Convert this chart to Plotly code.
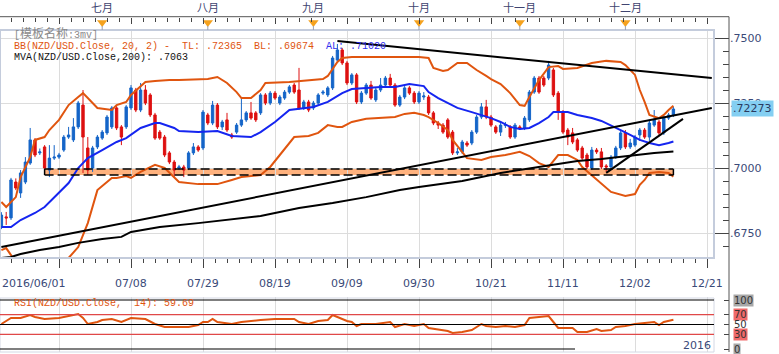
import plotly.graph_objects as go

W, H = 779, 354
def px(x): return x / W
def py(y): return 1 - y / H

# ---------------- data ----------------
IDX = list(range(141))
OPEN = [.6773,.6812,.6808,.6946,.6904,.6946,.7019,.7108,.7058,.7081,
        .6992,.7038,.7042,.7069,.7119,.7108,.7158,.7242,.7077,.7000,
        .7081,.7115,.7135,.7158,.7231,.7158,.7158,.7231,.7300,.7223,
        .7300,.7281,.7204,.7138,.7119,.7058,.7023,.7000,.7004,.7000,
        .7058,.7081,.7077,.7204,.7173,.7242,.7158,.7185,.7127,.7138,
        .7165,.7185,.7212,.7212,.7212,.7281,.7250,.7288,.7250,.7269,
        .7292,.7319,.7300,.7231,.7254,.7231,.7250,.7288,.7281,.7308,
        .7415,.7454,.7404,.7327,.7358,.7254,.7288,.7319,.7262,.7300,
        .7319,.7346,.7319,.7242,.7273,.7308,.7288,.7254,.7273,.7273,
        .7212,.7173,.7165,.7185,.7138,.7058,.7062,.7096,.7096,.7138,
        .7196,.7235,.7196,.7158,.7138,.7163,.7158,.7119,.7158,.7154,
        .7185,.7292,.7346,.7346,.7346,.7377,.7288,.7215,.7146,.7135,
        .7108,.7077,.7050,.7000,.7069,.7062,.7008,.7004,.7042,.7077,
        .7135,.7081,.7088,.7127,.7146,.7119,.7165,.7177,.7135,.7192,
        .7204]
HIGH = [.6830,.6831,.6962,.6960,.6992,.7042,.7154,.7115,.7075,.7088,
        .7088,.7088,.7058,.7127,.7158,.7192,.7258,.7300,.7119,.7085,
        .7127,.7146,.7204,.7238,.7238,.7165,.7242,.7319,.7308,.7327,
        .7319,.7288,.7212,.7146,.7127,.7065,.7031,.7012,.7012,.7065,
        .7096,.7088,.7223,.7212,.7258,.7250,.7185,.7212,.7135,.7173,
        .7269,.7219,.7254,.7219,.7288,.7288,.7296,.7296,.7281,.7300,
        .7319,.7327,.7385,.7262,.7262,.7258,.7288,.7300,.7315,.7431,
        .7477,.7462,.7412,.7365,.7365,.7296,.7327,.7335,.7308,.7346,
        .7354,.7362,.7327,.7281,.7315,.7315,.7296,.7296,.7292,.7281,
        .7219,.7181,.7173,.7192,.7146,.7077,.7108,.7104,.7146,.7204,
        .7250,.7262,.7204,.7165,.7173,.7177,.7165,.7173,.7165,.7200,
        .7300,.7354,.7354,.7354,.7412,.7385,.7296,.7223,.7154,.7154,
        .7115,.7085,.7058,.7081,.7077,.7077,.7015,.7050,.7085,.7142,
        .7146,.7112,.7127,.7154,.7154,.7181,.7223,.7185,.7200,.7212,
        .7235]
LOW = [.6765,.6781,.6800,.6915,.6885,.6938,.7012,.7042,.7050,.6992,
       .6965,.7031,.7035,.7062,.7112,.7100,.7150,.6981,.6973,.6985,
       .7073,.7108,.7127,.7150,.7146,.7088,.7150,.7223,.7215,.7215,
       .7242,.7196,.7108,.7108,.7042,.7015,.6965,.6992,.6965,.6992,
       .7050,.7062,.7069,.7165,.7165,.7150,.7146,.7138,.7112,.7131,
       .7158,.7177,.7185,.7177,.7204,.7242,.7242,.7262,.7242,.7262,
       .7285,.7285,.7223,.7223,.7215,.7223,.7242,.7281,.7273,.7300,
       .7408,.7396,.7319,.7319,.7246,.7246,.7281,.7262,.7254,.7292,
       .7312,.7312,.7235,.7235,.7265,.7281,.7246,.7246,.7262,.7204,
       .7165,.7150,.7131,.7112,.7050,.7050,.7054,.7081,.7088,.7131,
       .7188,.7188,.7158,.7131,.7123,.7154,.7112,.7112,.7146,.7146,
       .7177,.7285,.7285,.7312,.7338,.7273,.7185,.7131,.7088,.7092,
       .7062,.7031,.6996,.6992,.7054,.6996,.6985,.6996,.7035,.7069,
       .7073,.7073,.7081,.7104,.7112,.7104,.7158,.7127,.7127,.7185,
       .7196]
CLOSE = [.6819,.6808,.6954,.6923,.6981,.7023,.7108,.7050,.7062,.7000,
         .7038,.7042,.7050,.7119,.7127,.7158,.7250,.7119,.6992,.7077,
         .7119,.7138,.7196,.7231,.7154,.7119,.7235,.7308,.7223,.7300,
         .7250,.7204,.7115,.7115,.7050,.7023,.6992,.7004,.6992,.7058,
         .7081,.7069,.7215,.7173,.7242,.7158,.7177,.7146,.7119,.7165,
         .7185,.7212,.7192,.7185,.7281,.7250,.7288,.7269,.7273,.7292,
         .7312,.7292,.7231,.7254,.7223,.7250,.7281,.7292,.7308,.7423,
         .7454,.7404,.7327,.7358,.7254,.7288,.7319,.7269,.7300,.7319,
         .7346,.7319,.7242,.7273,.7308,.7288,.7254,.7288,.7277,.7212,
         .7173,.7165,.7138,.7119,.7058,.7062,.7100,.7088,.7138,.7196,
         .7235,.7196,.7165,.7138,.7165,.7167,.7119,.7165,.7154,.7192,
         .7292,.7346,.7292,.7319,.7396,.7281,.7215,.7138,.7119,.7100,
         .7069,.7038,.7004,.7069,.7062,.7004,.7004,.7042,.7077,.7135,
         .7081,.7096,.7119,.7146,.7119,.7173,.7185,.7135,.7192,.7204,
         .7227]

UB_IDX = [0,1,3,4,6,7,9,10,12,14,16,17,18,20,23,24,26,27,30,32,35,37,43,45,47,49,50,52,54,55,
          60,67,68,70,71,73,87,89,90,92,93,95,97,99,101,102,104,106,108,109,110,112,114,116,117,
          120,123,126,129,130,132,133,134,135,137,138,139,140]
UB_VAL = [.6869,.6850,.6888,.6965,.7042,.7108,.7119,.7146,.7185,.7242,.7273,.7288,.7269,.7231,.7223,
          .7242,.7254,.7281,.7331,.7335,.7338,.7338,.7342,.7350,.7327,.7292,.7269,.7269,.7300,.7327,
          .7331,.7342,.7354,.7408,.7423,.7427,.7427,.7423,.7385,.7373,.7377,.7404,.7404,.7377,.7354,
          .7342,.7323,.7288,.7242,.7239,.7273,.7338,.7388,.7392,.7381,.7385,.7404,.7412,.7408,.7396,
          .7358,.7300,.7254,.7204,.7192,.7204,.7223,.7239]

LB_IDX = [0,1,2,3,5,8,11,13,14,16,18,20,23,24,26,27,29,32,34,37,41,45,48,50,54,56,58,60,61,64,
          66,68,70,71,73,76,79,82,84,86,88,89,91,93,94,96,97,100,102,105,108,110,112,114,115,116,
          118,120,121,123,125,127,130,132,133,134,135,137,139,140]
LB_VAL = [.6684,.6692,.6665,.6634,.6588,.6569,.6584,.6627,.6654,.6696,.6788,.6915,.6962,.6962,.6969,
          .6962,.6985,.7012,.7000,.6946,.6938,.6938,.6954,.6965,.6973,.7004,.7050,.7096,.7119,.7123,
          .7135,.7165,.7158,.7158,.7177,.7189,.7192,.7196,.7208,.7212,.7204,.7196,.7173,.7146,.7108,
          .7062,.7038,.7031,.7042,.7050,.7062,.7046,.7019,.7004,.7027,.7050,.7050,.7031,.7004,.6973,
          .6942,.6908,.6892,.6900,.6935,.6954,.6981,.6985,.6981,.6967]

MB_IDX = [0,2,4,7,9,12,14,16,18,21,24,26,29,32,33,36,37,41,45,48,52,54,57,60,65,68,71,73,76,79,
          82,85,88,89,91,93,95,98,100,102,104,106,108,110,112,114,115,118,120,123,125,127,129,131,
          133,135,137,139,140]
MB_VAL = [.6773,.6773,.6800,.6827,.6850,.6904,.6942,.7000,.7038,.7069,.7100,.7115,.7154,.7173,.7173,
          .7154,.7142,.7138,.7142,.7123,.7119,.7138,.7177,.7223,.7235,.7254,.7288,.7304,.7308,.7312,
          .7312,.7323,.7315,.7292,.7269,.7250,.7231,.7215,.7204,.7192,.7177,.7158,.7150,.7154,.7173,
          .7196,.7215,.7215,.7204,.7192,.7181,.7165,.7146,.7127,.7108,.7096,.7088,.7096,.7102]

MVA_IDX = [0,2,4,8,12,16,21,25,27,33,41,50,54,62,69,76,83,87,96,104,108,112,116,120,125,132,136,140]
MVA_VAL = [.6654,.6658,.6669,.6685,.6696,.6712,.6727,.6735,.6754,.6773,.6788,.6808,.6815,.6846,
           .6865,.6888,.6915,.6927,.6950,.6981,.6992,.7004,.7015,.7027,.7035,.7050,.7058,.7063]

RSI_IDX = [0,2,4,6,7,9,12,13,16,17,18,20,21,23,25,27,29,30,32,34,39,41,42,43,44,45,48,50,54,57,
           61,62,64,66,68,69,70,72,73,74,75,78,81,82,84,86,88,89,93,94,96,98,100,101,103,105,107,
           109,110,112,114,115,116,119,120,122,124,125,127,128,130,132,134,136,137,138,140]
RSI_VAL = [51.0,63.3,63.3,69.4,65.3,61.2,63.3,65.3,71.4,63.3,51.0,55.1,59.2,61.2,55.1,63.3,61.2,61.2,
           51.0,44.9,44.9,49.0,55.1,55.1,61.2,55.1,51.0,55.1,59.2,61.2,61.2,55.1,51.0,57.1,59.2,69.4,
           65.3,57.1,55.1,46.9,51.0,51.0,55.1,44.9,51.0,46.9,51.0,42.9,36.7,32.7,34.7,38.8,51.0,46.9,
           44.9,46.9,44.9,49.0,63.3,65.3,67.3,55.1,42.9,42.9,34.7,34.7,40.8,36.7,38.8,44.9,46.9,51.0,
           53.1,55.1,49.0,55.1,59.69]

# drawn trend lines: (idx0, price0, idx1, price1)
TRENDS = [(0, .6696, 148, .7231), (70, .7488, 148, .7346), (126, .6981, 142, .7189)]
ZONE = (9, 140, .6973, .6996)

GRID_IDX = [12, 27, 42, 57, 72, 87, 102, 117, 132, 147]
DATE_IDX = [27, 42, 57, 72, 87, 102, 117, 132, 147]
DATE_LBL = ['07/08', '07/29', '08/19', '09/09', '09/30', '10/21', '11/11', '12/02', '12/21']
FIRST_DATE = '2016/06/01'
MONTH_IDX = [21, 43, 65, 87, 108, 130]
MONTH_LBL = ['七月', '八月', '九月', '十月', '十一月', '十二月']
PRICE_TICKS = [.675, .700, .725, .750]
PRICE_LBL = ['.6750', '.7000', '.7250', '.7500']
LAST_PRICE = .72273
RSI_LEVELS = [100, 70, 50, 30, 0]
TL, BL, AL, MVA_LAST, RSI_LAST = '.72365', '.69674', '.71020', '.7063', '59.69'

# ---------------- style ----------------
BLUE_C = '#1565C8'
RED_C = '#DD1010'
ORANGE = '#E0550F'
BLUE_L = '#1525F0'
LBL = '#3A4A78'
MONO = 'Liberation Mono, Noto Sans CJK SC, monospace'
SANS = 'DejaVu Sans, sans-serif'

X0 = -0.2917
X1 = 148.458
XD = [0, px(714)]
YD_MAIN = [py(258), py(30)]
YR_MAIN = [0.7 - 90 / 2600, 0.7 + 138 / 2600]
YD_RSI = [py(352), py(297)]
YR_RSI = [(349 - 352) / 0.49, (349 - 297) / 0.49]
AXPOS = px(729)

fig = go.Figure()

fig.add_trace(go.Candlestick(
    x=IDX, open=OPEN, high=HIGH, low=LOW, close=CLOSE,
    increasing=dict(line=dict(color=BLUE_C, width=1), fillcolor=BLUE_C),
    decreasing=dict(line=dict(color=RED_C, width=1), fillcolor=RED_C),
    whiskerwidth=0, xaxis='x', yaxis='y', hoverinfo='skip'))

for xs, ys, col in [(UB_IDX, UB_VAL, ORANGE), (LB_IDX, LB_VAL, ORANGE),
                    (MVA_IDX, MVA_VAL, '#000000'), (MB_IDX, MB_VAL, BLUE_L)]:
    fig.add_trace(go.Scatter(x=xs, y=ys, mode='lines', line=dict(color=col, width=2),
                             xaxis='x', yaxis='y', hoverinfo='skip'))

fig.add_trace(go.Scatter(x=RSI_IDX, y=RSI_VAL, mode='lines', line=dict(color=ORANGE, width=2),
                         xaxis='x2', yaxis='y2', hoverinfo='skip'))

fig.add_trace(go.Scatter(x=MONTH_IDX, y=[0.5] * len(MONTH_IDX), mode='markers',
                         marker=dict(symbol='triangle-down', size=9, color='#F5A21E',
                                     line=dict(width=0)),
                         xaxis='x3', yaxis='y3', hoverinfo='skip'))

shapes = []
# support zone
shapes.append(dict(type='rect', xref='x', yref='y', x0=ZONE[0], x1=ZONE[1], y0=ZONE[2], y1=ZONE[3],
                   fillcolor='#FFB27E', line=dict(width=0), layer='below'))
for yv in (ZONE[2], ZONE[3]):
    shapes.append(dict(type='line', xref='x', yref='y', x0=ZONE[0], x1=ZONE[1], y0=yv, y1=yv,
                       line=dict(color='#000000', width=1.5, dash='9px,4px')))
for xv in (ZONE[0], ZONE[1]):
    shapes.append(dict(type='line', xref='x', yref='y', x0=xv, x1=xv, y0=ZONE[2], y1=ZONE[3],
                       line=dict(color='#000000', width=1.5)))
for (a, b, c, d) in TRENDS:
    shapes.append(dict(type='line', xref='x', yref='y', x0=a, y0=b, x1=c, y1=d,
                       line=dict(color='#000000', width=2)))
# frames
shapes.append(dict(type='rect', xref='paper', yref='paper', x0=0, x1=XD[1], y0=YD_MAIN[0], y1=YD_MAIN[1],
                   line=dict(color='#C4CCDC', width=2)))
shapes.append(dict(type='rect', xref='paper', yref='paper', x0=0, x1=XD[1], y0=YD_RSI[0], y1=py(298),
                   line=dict(color='#D4D8E4', width=1)))
# RSI levels
for lv in RSI_LEVELS:
    col = '#E04848' if lv in (70, 30) else '#000000'
    xend = px(575) if lv == 0 else XD[1]
    shapes.append(dict(type='line', xref='paper', yref='y2', x0=0, x1=xend, y0=lv, y1=lv,
                       line=dict(color=col, width=1.2)))
# outer axis lines
shapes.append(dict(type='line', xref='paper', yref='paper', x0=AXPOS, x1=AXPOS, y0=py(352), y1=py(16.7),
                   line=dict(color='#555555', width=1)))
shapes.append(dict(type='line', xref='paper', yref='paper', x0=0, x1=AXPOS, y0=py(16.7), y1=py(16.7),
                   line=dict(color='#555555', width=1)))
# month marker stems
for m in MONTH_IDX:
    shapes.append(dict(type='line', xref='x', yref='paper', x0=m, x1=m, y0=py(30), y1=py(26),
                       line=dict(color='#9AA0B0', width=1)))

ann = []
ann.append(dict(x=px(12), y=py(34), xref='paper', yref='paper', xanchor='left', yanchor='middle',
                showarrow=False, text="[<span style='font-size:12px'>模板名称</span>:3mv]",
                font=dict(family=MONO, size=10, color='#8A8A8A')))
nb = '\u00a0'
bb_txt = (f"<span style='color:{ORANGE}'>BB(NZD/USD.Close,{nb}20,{nb}2){nb}-{nb}{nb}TL:{nb}{TL}{nb}{nb}BL:{nb}{BL}{nb}{nb}</span>"
          f"<span style='color:#3030F0'>AL:{nb}{AL}</span>")
ann.append(dict(x=px(12), y=py(46), xref='paper', yref='paper', xanchor='left', yanchor='middle',
                showarrow=False, text=bb_txt, font=dict(family=MONO, size=10, color=ORANGE)))
ann.append(dict(x=px(12), y=py(57.5), xref='paper', yref='paper', xanchor='left', yanchor='middle',
                showarrow=False, text=f"MVA(NZD/USD.Close,200):{nb}{MVA_LAST}",
                font=dict(family=MONO, size=10, color='#111111')))
ann.append(dict(x=px(12), y=py(303), xref='paper', yref='paper', xanchor='left', yanchor='middle',
                showarrow=False, text=f"RSI(NZD/USD.Close,{nb}{nb}14):{nb}{RSI_LAST}",
                font=dict(family=MONO, size=10, color=ORANGE)))
for m, lbl in zip(MONTH_IDX, MONTH_LBL):
    ann.append(dict(x=m, y=py(7), xref='x', yref='paper', xanchor='center', yanchor='middle',
                    showarrow=False, text=lbl,
                    font=dict(family='Noto Sans CJK SC', size=11, color='#404470')))
ann.append(dict(x=0, y=py(283), xref='paper', yref='paper', xanchor='left', yanchor='middle',
                showarrow=False, text=FIRST_DATE, font=dict(family=SANS, size=11, color=LBL)))
for d, lbl in zip(DATE_IDX, DATE_LBL):
    ann.append(dict(x=d, y=py(283), xref='x', yref='paper', xanchor='center', yanchor='middle',
                    showarrow=False, text=lbl, font=dict(family=SANS, size=11, color=LBL)))
ann.append(dict(x=px(731), y=LAST_PRICE, xref='paper', yref='y', xanchor='left', yanchor='middle',
                showarrow=False, text=f"{LAST_PRICE:.5f}"[1:], bgcolor='#84CFF2', borderpad=1,
                font=dict(family=SANS, size=11, color='#2A3A60')))
rsi_bg = {100: '#A8A8A8', 70: '#F06A6A', 50: 'rgba(0,0,0,0)', 30: '#F06A6A', 0: '#A8A8A8'}
for lv in RSI_LEVELS:
    ann.append(dict(x=px(733), y=lv, xref='paper', yref='y2', xanchor='left', yanchor='middle',
                    showarrow=False, text=str(lv), bgcolor=rsi_bg[lv], borderpad=0,
                    font=dict(family=SANS, size=10, color='#333333')))
ann.append(dict(x=px(713), y=py(345), xref='paper', yref='paper', xanchor='right', yanchor='middle',
                showarrow=False, text='2016', font=dict(family=SANS, size=11, color=LBL)))

grid_c = '#DCDCDC'
fig.update_layout(
    width=W, height=H, margin=dict(l=0, r=0, t=0, b=0), autosize=False,
    paper_bgcolor='white', plot_bgcolor='white', showlegend=False,
    shapes=shapes, annotations=ann,
    xaxis=dict(domain=XD, range=[X0, X1], anchor='y', rangeslider=dict(visible=False),
               tickmode='array', tickvals=GRID_IDX, showticklabels=False, showgrid=True,
               gridcolor=grid_c, gridwidth=1, zeroline=False, showline=True, linecolor='#C4CCDC',
               ticks='outside', ticklen=9, tickcolor='#444444',
               minor=dict(dtick=2.5, tick0=12, ticks='outside', ticklen=4, tickcolor='#444444',
                          showgrid=False)),
    yaxis=dict(domain=YD_MAIN, range=YR_MAIN, anchor='free', position=AXPOS, side='right',
               tickmode='array', tickvals=PRICE_TICKS, ticktext=PRICE_LBL, showgrid=True,
               gridcolor=grid_c, zeroline=False, showline=False,
               ticks='inside', ticklen=14, tickcolor='#444444',
               tickfont=dict(family=SANS, size=11, color=LBL),
               minor=dict(dtick=0.005, tick0=0.7, ticks='inside', ticklen=6, tickcolor='#444444',
                          showgrid=False)),
    xaxis2=dict(domain=XD, range=[X0, X1], matches='x', anchor='y2', tickmode='array',
                tickvals=GRID_IDX, showticklabels=False, showgrid=True, gridcolor=grid_c,
                zeroline=False, showline=False, ticks=''),
    yaxis2=dict(domain=YD_RSI, range=YR_RSI, anchor='free', position=AXPOS, side='right',
                tickmode='array', tickvals=RSI_LEVELS, showticklabels=False, showgrid=False,
                zeroline=False, showline=False, ticks='inside', ticklen=5, tickcolor='#444444'),
    xaxis3=dict(domain=XD, range=[X0, X1], matches='x', anchor='free', position=py(16.7),
                side='top', overlaying='x', tickmode='array', tickvals=GRID_IDX,
                showticklabels=False, showgrid=False, zeroline=False, showline=False,
                ticks='inside', ticklen=6, tickcolor='#444444',
                minor=dict(dtick=2.5, tick0=12, ticks='inside', ticklen=4, tickcolor='#444444')),
    yaxis3=dict(domain=[py(27), py(18)], range=[0, 1], anchor='x3', visible=False),
)

fig.write_html('out.html')
